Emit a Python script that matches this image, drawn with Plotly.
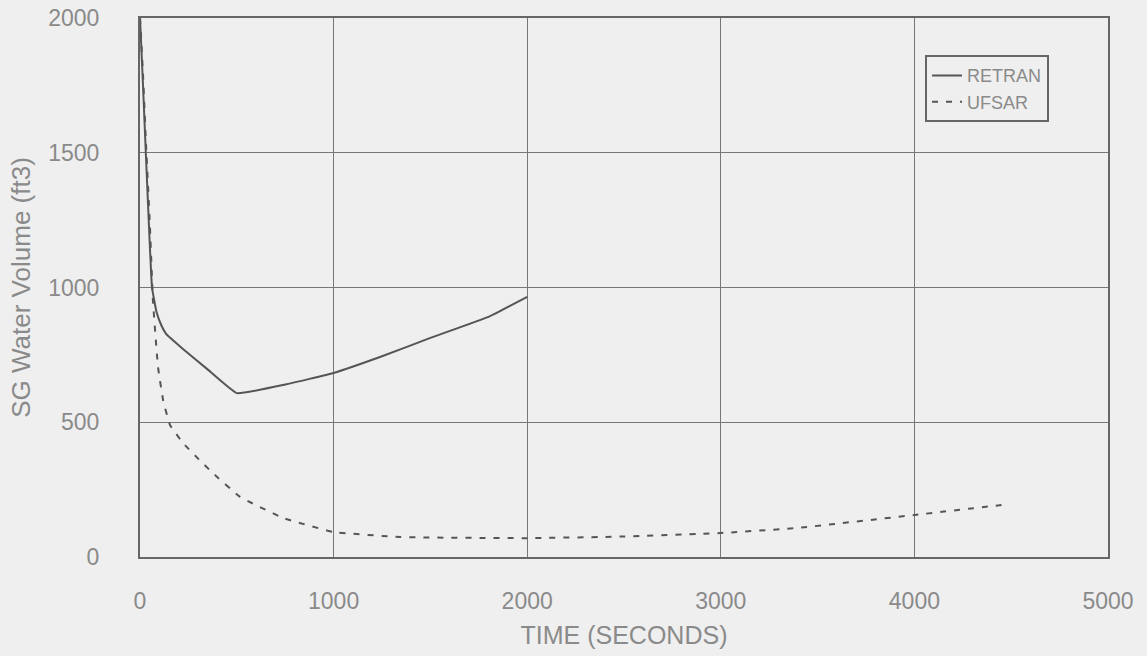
import plotly.graph_objects as go

# RETRAN (solid)
retran_t = [0, 15, 30, 45, 62, 85, 110, 135, 222, 346, 500, 750, 1000, 1250, 1500, 1800, 2000]
retran_v = [2000, 1760, 1500, 1250, 1000, 910, 860, 828, 772, 698, 608, 640, 683, 745, 813, 891, 965]

# UFSAR (dashed)
ufsar_t = [0, 15, 30, 50, 67, 93, 120, 155, 222, 300, 377, 517, 739, 997, 1343, 2000, 2500, 3000, 3400, 4000, 4450]
ufsar_v = [2000, 1800, 1550, 1250, 950, 705, 580, 490, 423, 365, 311, 223, 145, 93, 74, 70, 76, 89, 108, 156, 193]

x_ticks = [0, 1000, 2000, 3000, 4000, 5000]
y_ticks = [0, 500, 1000, 1500, 2000]

line_col = "#555555"
text_col = "#8a8a8a"
grid_col = "#777777"
bg = "#efefef"

fig = go.Figure()
fig.add_trace(go.Scatter(x=retran_t, y=retran_v, mode="lines", name="RETRAN",
                         line=dict(color=line_col, width=2, shape="spline", smoothing=0.3)))
fig.add_trace(go.Scatter(x=ufsar_t, y=ufsar_v, mode="lines", name="UFSAR",
                         line=dict(color=line_col, width=2, dash="6px,8px", shape="spline", smoothing=0.3)))

fig.update_layout(
    width=1147, height=656,
    margin=dict(l=140, r=39, t=18, b=99, autoexpand=False),
    paper_bgcolor=bg, plot_bgcolor=bg,
    font=dict(family="Liberation Sans, Arial, sans-serif", color=text_col, size=23),
    showlegend=True,
    legend=dict(x=0.811, y=0.931, xanchor="left", yanchor="top",
                bgcolor=bg, bordercolor="#666666", borderwidth=2,
                font=dict(size=18, color=text_col),
                tracegroupgap=0, itemwidth=30),
    xaxis=dict(range=[0, 5000], tickvals=x_ticks, ticktext=[str(v) for v in x_ticks],
               showgrid=True, gridcolor=grid_col, gridwidth=1, automargin=False,
               showline=True, linecolor="#666666", linewidth=2, mirror=True,
               zeroline=False, ticks="", ticklabelstandoff=22,
               title=dict(text="TIME (SECONDS)", font=dict(size=25, color=text_col), standoff=14)),
    yaxis=dict(range=[0, 2000], tickvals=y_ticks, ticktext=[str(v) for v in y_ticks],
               showgrid=True, gridcolor=grid_col, gridwidth=1, automargin=False,
               showline=True, linecolor="#666666", linewidth=2, mirror=True,
               zeroline=False, ticks="", ticklabelstandoff=34,
               title=dict(text="SG Water Volume (ft3)", font=dict(size=26, color=text_col), standoff=10)),
)

fig.write_html("out.html")
